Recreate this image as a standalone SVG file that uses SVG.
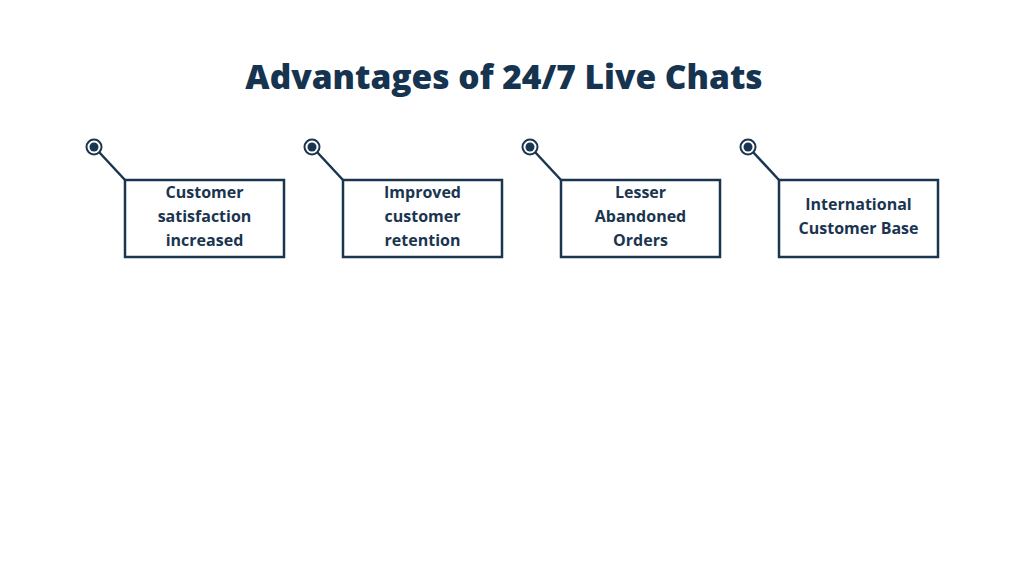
<svg xmlns="http://www.w3.org/2000/svg" width="1024" height="576" viewBox="0 0 1024 576">
<style>
.box{fill:#fff;stroke:#1a3550;stroke-width:2.5}
.ln{stroke:#1a3550;stroke-width:2.5}
.ring{fill:#fff;stroke:#1a3550;stroke-width:2}
.dot{fill:#1a3550}
.t{font-family:"Open Sans","Liberation Sans",sans-serif;font-weight:bold;font-size:16px;fill:#1a3550;text-anchor:middle}
.title{font-family:"Open Sans","Liberation Sans",sans-serif;font-weight:800;font-size:33.5px;fill:#16334f;text-anchor:middle}
</style>
<rect width="1024" height="576" fill="#fff"/>
<text class="title" x="504" y="89">Advantages of 24/7 Live Chats</text>
<g id="connectors">
<line class="ln" x1="99" y1="152" x2="125" y2="180"/>
<line class="ln" x1="317" y1="152" x2="343" y2="180"/>
<line class="ln" x1="535" y1="152" x2="561" y2="180"/>
<line class="ln" x1="753" y1="152" x2="779" y2="180"/>
</g>
<g id="n1"><circle class="ring" cx="94" cy="147" r="7.5"/><circle class="dot" cx="94" cy="147" r="4.5"/><rect class="box" x="125" y="180" width="159" height="77"/><text class="t" x="204.5" y="198">Customer</text><text class="t" x="204.5" y="222">satisfaction</text><text class="t" x="204.5" y="246">increased</text></g>
<g id="n2"><circle class="ring" cx="312" cy="147" r="7.5"/><circle class="dot" cx="312" cy="147" r="4.5"/><rect class="box" x="343" y="180" width="159" height="77"/><text class="t" x="422.5" y="198">Improved</text><text class="t" x="422.5" y="222">customer</text><text class="t" x="422.5" y="246">retention</text></g>
<g id="n3"><circle class="ring" cx="530" cy="147" r="7.5"/><circle class="dot" cx="530" cy="147" r="4.5"/><rect class="box" x="561" y="180" width="159" height="77"/><text class="t" x="640.5" y="198">Lesser</text><text class="t" x="640.5" y="222">Abandoned</text><text class="t" x="640.5" y="246">Orders</text></g>
<g id="n4"><circle class="ring" cx="748" cy="147" r="7.5"/><circle class="dot" cx="748" cy="147" r="4.5"/><rect class="box" x="779" y="180" width="159" height="77"/><text class="t" x="858.5" y="210">International</text><text class="t" x="858.5" y="234">Customer Base</text></g>
</svg>
